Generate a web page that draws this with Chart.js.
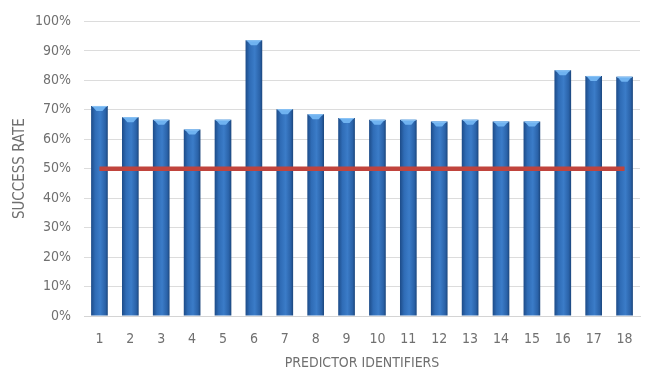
<!DOCTYPE html>
<html>
<head>
<meta charset="utf-8">
<script src="https://cdn.jsdelivr.net/npm/chart.js@4.4.1/dist/chart.umd.min.js"></script>
<style>
  html, body { margin: 0; padding: 0; background: #ffffff; }
  #wrap { width: 647px; height: 374px; position: relative; }
</style>
</head>
<body>
<div id="wrap"><canvas id="c" width="647" height="374"></canvas></div>
<script>
// Predictor identifiers and their success rates (%)
const categories = ['1','2','3','4','5','6','7','8','9','10','11','12','13','14','15','16','17','18'];
const successRate = [71.3, 67.5, 66.6, 63.3, 66.6, 93.6, 70.2, 68.5, 67.2, 66.6, 66.6, 66.0, 66.6, 66.0, 66.0, 83.4, 81.5, 81.2];
const threshold = 50;
const thresholdLine = categories.map(() => threshold);
const yTicks = [0, 10, 20, 30, 40, 50, 60, 70, 80, 90, 100];

const FONT = '"Liberation Sans Narrow", "DejaVu Sans Condensed", sans-serif';
const TEXT = '#707070';

// Cylinder-like horizontal shading for each bar
function barFill(ctx) {
  const chart = ctx.chart;
  const xs = chart.scales.x;
  if (!xs || ctx.dataIndex === undefined) return '#2f6eb8';
  const cx = xs.getPixelForValue(ctx.dataIndex);
  if (!isFinite(cx)) return '#2f6eb8';
  const half = 8.5;
  const g = chart.ctx.createLinearGradient(cx - half, 0, cx + half, 0);
  g.addColorStop(0.0, '#1c4a86');
  g.addColorStop(0.25, '#2f6cb6');
  g.addColorStop(0.55, '#3b7cc8');
  g.addColorStop(0.85, '#2a62a8');
  g.addColorStop(1.0, '#1a4479');
  return g;
}

// Light bevel on the top face of each bar
const barCaps = {
  id: 'barCaps',
  afterDatasetDraw(chart, args) {
    if (args.index !== 0) return;
    const c = chart.ctx;
    chart.getDatasetMeta(0).data.forEach(el => {
      const l = el.x - el.width / 2, r = el.x + el.width / 2, t = el.y;
      c.save();
      c.fillStyle = '#6fb2f0';
      c.beginPath();
      c.moveTo(l + 1, t);
      c.lineTo(r - 1, t);
      c.lineTo(el.x + 3, t + 5);
      c.lineTo(el.x - 3, t + 5);
      c.closePath();
      c.fill();
      c.fillStyle = '#8cc4f5';
      c.fillRect(l + 1, t, el.width - 2, 1);
      c.restore();
    });
  }
};

new Chart(document.getElementById('c'), {
  data: {
    labels: categories,
    datasets: [
      {
        type: 'bar',
        data: successRate,
        backgroundColor: barFill,
        borderWidth: 0,
        barPercentage: 0.54,
        categoryPercentage: 1.0,
        order: 1
      },
      {
        type: 'line',
        data: thresholdLine,
        borderColor: '#c0443d',
        borderWidth: 4.5,
        pointRadius: 0,
        tension: 0,
        fill: false,
        order: 0
      }
    ]
  },
  options: {
    responsive: false,
    animation: false,
    devicePixelRatio: 1,
    layout: { padding: { top: 14, right: 7, left: 0, bottom: 0 } },
    plugins: { legend: { display: false }, tooltip: { enabled: false } },
    scales: {
      x: {
        grid: { display: false },
        border: { display: true, color: '#d4d4d4', width: 1 },
        ticks: { color: TEXT, font: { family: FONT, size: 14 }, padding: 7, maxRotation: 0 },
        title: { display: true, text: 'PREDICTOR IDENTIFIERS', color: TEXT, font: { family: FONT, size: 14 }, padding: { top: 0, bottom: 2 } },
        afterFit(s) { s.height = 58; }
      },
      y: {
        min: 0,
        max: 100,
        afterBuildTicks(s) { s.ticks = yTicks.map(v => ({ value: v })); },
        grid: { color: '#dcdcdc', lineWidth: 1, drawTicks: false },
        border: { display: false },
        ticks: { color: TEXT, font: { family: FONT, size: 14 }, padding: 13, callback: v => v + '%' },
        title: { display: true, text: 'SUCCESS RATE', color: TEXT, font: { family: FONT, size: 15 }, padding: { top: 11, bottom: 0 } },
        afterFit(s) { s.width = 84; }
      }
    }
  },
  plugins: [barCaps]
});
</script>
</body>
</html>
